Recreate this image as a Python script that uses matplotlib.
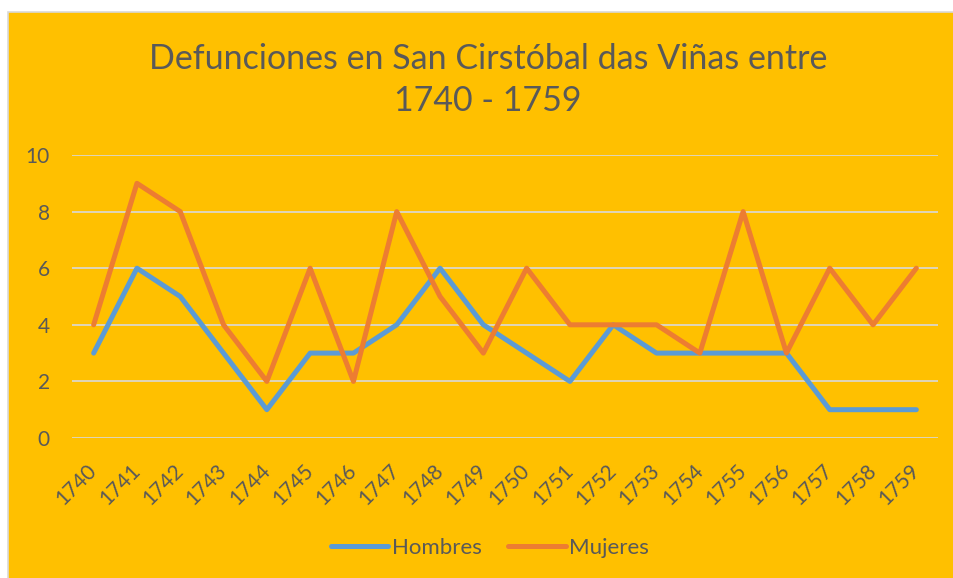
import matplotlib
matplotlib.use("Agg")
import matplotlib.pyplot as plt
from matplotlib.patches import Rectangle

years = [str(y) for y in range(1740, 1760)]
hombres = [3, 6, 5, 3, 1, 3, 3, 4, 6, 4, 3, 2, 4, 3, 3, 3, 3, 1, 1, 1]
mujeres = [4, 9, 8, 4, 2, 6, 2, 8, 5, 3, 6, 4, 4, 4, 3, 8, 3, 6, 4, 6]

bg = "#FFC000"
txt = "#595959"
plt.rcParams["font.family"] = ["Lato", "DejaVu Sans"]

fig = plt.figure(figsize=(9.54, 5.78), dpi=100)
fig.patch.set_facecolor("white")
# chart area frame
fig.patches.append(Rectangle((8 / 954, -0.01), 1.01 - 8 / 954, 1.01 - 12 / 578,
                             transform=fig.transFigure, facecolor=bg,
                             edgecolor="#D9D9D9", linewidth=1.2, zorder=0))

ax = fig.add_axes([72 / 954, 140 / 578, 866 / 954, 283 / 578])
ax.set_zorder(2)
ax.set_facecolor("none")
x = list(range(len(years)))
ax.plot(x, hombres, color="#5B9BD5", lw=3.6, label="Hombres", solid_capstyle="round", solid_joinstyle="round")
ax.plot(x, mujeres, color="#ED7D31", lw=3.6, label="Mujeres", solid_capstyle="round", solid_joinstyle="round")

ax.set_xlim(-0.5, len(years) - 0.5)
ax.set_ylim(0, 10)
ax.set_yticks(range(0, 11, 2))
ax.grid(axis="y", color="#D9D9D9", lw=1.2)
ax.set_axisbelow(True)
for s in ax.spines.values():
    s.set_visible(False)
ax.tick_params(length=0, colors=txt, labelsize=15)
ax.tick_params(axis="y", pad=16)
ax.set_xticks(x)
ax.set_xticklabels(years, rotation=45, ha="right", va="center", rotation_mode="anchor")
ax.tick_params(axis="x", pad=21)

fig.text(488 / 954, 1 - 80 / 578, "Defunciones en San Cirstóbal das Viñas entre\n1740 - 1759",
         ha="center", va="center", fontsize=24.5, color=txt, linespacing=1.38, zorder=3)

ax.legend(loc="center", bbox_to_anchor=(490 / 954, 1 - 548 / 578), bbox_transform=fig.transFigure,
          ncol=2, frameon=False, fontsize=16, labelcolor=txt, handlelength=2.6,
          handletextpad=0.15, columnspacing=1.2)

fig.savefig("out.png", dpi=100, facecolor=fig.get_facecolor())
